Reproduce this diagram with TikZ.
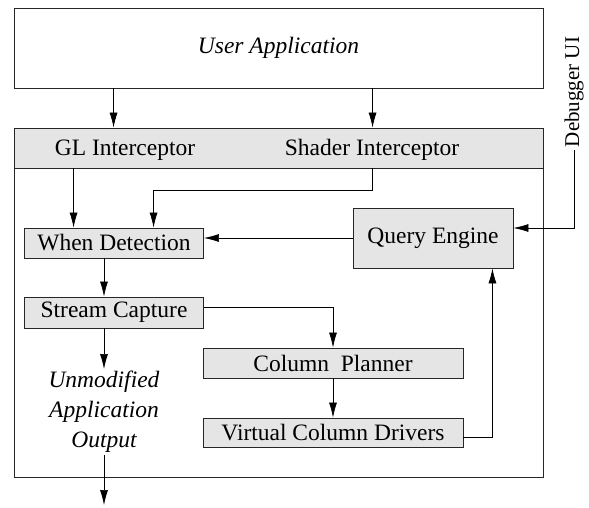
\documentclass[tikz,border=0pt]{standalone}
\usepackage{fontspec}
\setmainfont{Liberation Serif}
\usepackage{xcolor}
\usetikzlibrary{positioning, arrows.meta, calc}
\definecolor{boxgray}{HTML}{E5E5E5}
\newcommand{\bigtxt}{\fontsize{23.5}{30}\selectfont}

\begin{document}
\begin{tikzpicture}[x=1pt, y=-1pt,
  box/.style={draw=black!85, line width=0.9pt, fill=boxgray, inner sep=0pt, font=\bigtxt},
  flow/.style={-{Latex[length=15pt,width=8pt]}, line width=0.7pt}]
\useasboundingbox (0,0) rectangle (589,508);
% outer parts
\node[box, fill=white, minimum width=529, minimum height=80, font=\bigtxt\itshape] (app) at (278.5,48) {User Application};
\node[box, fill=none, minimum width=529, minimum height=349] (frame) at (278.5,302.5) {};
\node[box, minimum width=529, minimum height=40] (bar) at (278.5,148) {};
\node[font=\bigtxt] (gl) at (125,150) {GL Interceptor};
\node[font=\bigtxt] (sh) at (372,150) {Shader Interceptor};
\node[rotate=90, font=\fontsize{21}{25}\selectfont, inner sep=3pt] (dbg) at (574,92) {Debugger UI};
% inner boxes
\node[box, minimum width=179, minimum height=30] (wd) at (114,243) {When Detection};
\node[box, minimum width=160, minimum height=60] (qe) at (433,238) {Query Engine};
\node[box, minimum width=179, minimum height=31] (sc) at (114,312.5) {Stream Capture};
\node[box, minimum width=260, minimum height=30] (cp) at (333,363) {Column~ Planner};
\node[box, minimum width=260, minimum height=29] (vcd) at (333,432.5) {Virtual Column Drivers};
\node[font=\bigtxt\itshape, align=center, inner sep=2pt] (out) at (104,412) {Unmodified\\Application\\Output};
\coordinate (sink) at (104,505);
% arrows
\draw[flow] ($(app.south west)+(100,0)$) -- ($(bar.north west)+(100,0)$);
\draw[flow] ($(app.south west)+(359,0)$) -- ($(bar.north west)+(359,0)$);
\draw[flow] ($(bar.south west)+(60,0)$) -- ($(wd.north west)+(49.5,0)$);
\draw[flow] ($(bar.south west)+(359,0)$) -- ++(0,22) -| ($(wd.north west)+(129.5,0)$);
\draw[flow] (qe.west) -- (qe.west -| wd.east);
\draw[flow] (dbg.west) |- ([yshift=10pt]qe.east);
\draw[flow] (wd.south -| out.north) -- (sc.north -| out.north);
\draw[flow] ([yshift=5.5pt]sc.east) -| (cp.north);
\draw[flow] (cp.south) -- (vcd.north);
\draw[flow] ([yshift=-4.5pt]vcd.east) -| ($(qe.south east)+(-21,0)$);
\draw[flow] (sc.south -| out.north) -- (out.north);
\draw[flow] (out.south) -- (sink);
\end{tikzpicture}
\end{document}
